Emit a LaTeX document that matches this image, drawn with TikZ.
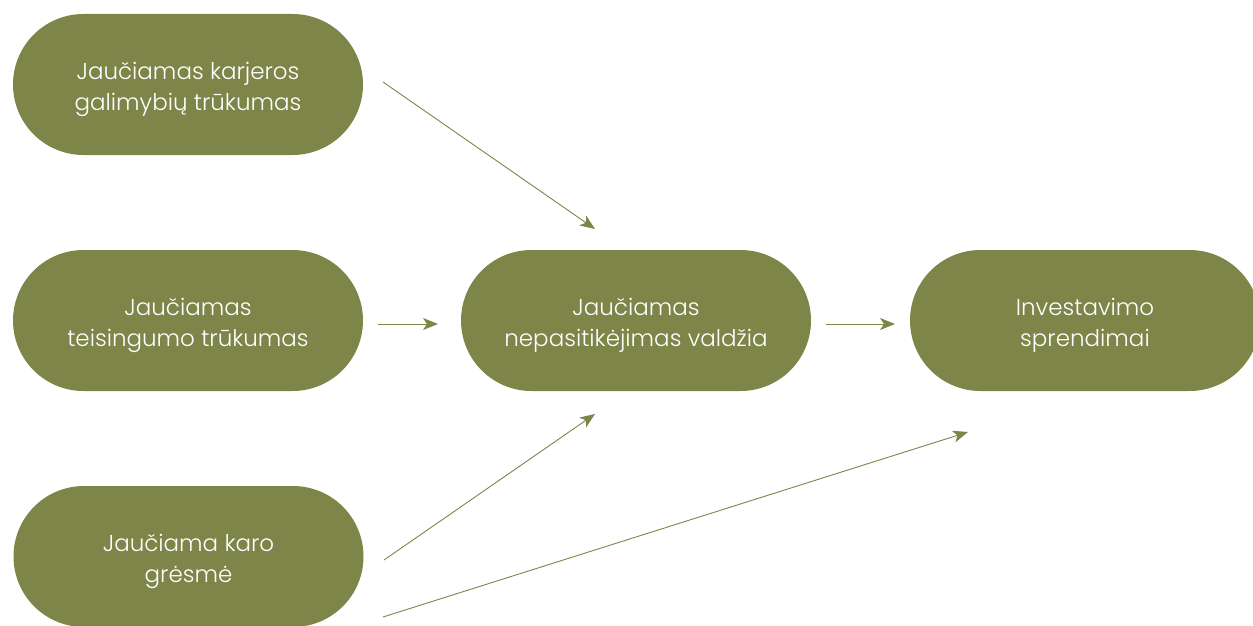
\documentclass[tikz,border=0pt]{standalone}
\usepackage{fontspec}
\setmainfont{Poppins Light}
\usetikzlibrary{arrows.meta}
\definecolor{olive}{HTML}{7E8548}
\newcommand{\twolines}[2]{\rule{0pt}{29pt}#1\\#2\rule[-8pt]{0pt}{8pt}}
\tikzset{
  pill/.style={fill=olive, draw=none, rounded corners=70.5pt, minimum width=350pt, minimum height=141pt, inner sep=0pt, align=center, text=white, font=\fontsize{23}{31}\selectfont},
  link/.style={draw=olive, line width=0.9pt, -{Stealth[length=15pt, width=12pt, inset=4pt]}}
}
\begin{document}
\begin{tikzpicture}[x=1pt, y=-1pt]
\useasboundingbox (0,0) rectangle (1253,626);
\node[pill] (a) at (188,84.5) {\twolines{Jaučiamas karjeros}{galimybių trūkumas}};
\node[pill] (b) at (188,320.5) {\twolines{Jaučiamas}{teisingumo trūkumas}};
\node[pill] (c) at (188.5,556.5) {\twolines{Jaučiama karo}{grėsmė}};
\node[pill] (m) at (636,320.5) {\twolines{Jaučiamas}{nepasitikėjimas valdžia}};
\node[pill] (r) at (1085,320.5) {\twolines{Investavimo}{sprendimai}};
\coordinate (a1) at (383,82);
\coordinate (m1) at (595,229);
\coordinate (b1) at (378,324);
\coordinate (m2) at (438,324);
\coordinate (c1) at (384,560);
\coordinate (m3) at (595,414);
\coordinate (c2) at (383,617);
\coordinate (r1) at (968,432);
\coordinate (m4) at (826,324);
\coordinate (r2) at (895,324);
\draw[link] (a1) -- (m1);
\draw[link] (b1) -- (m2);
\draw[link] (c1) -- (m3);
\draw[link] (c2) -- (r1);
\draw[link] (m4) -- (r2);
\end{tikzpicture}
\end{document}
